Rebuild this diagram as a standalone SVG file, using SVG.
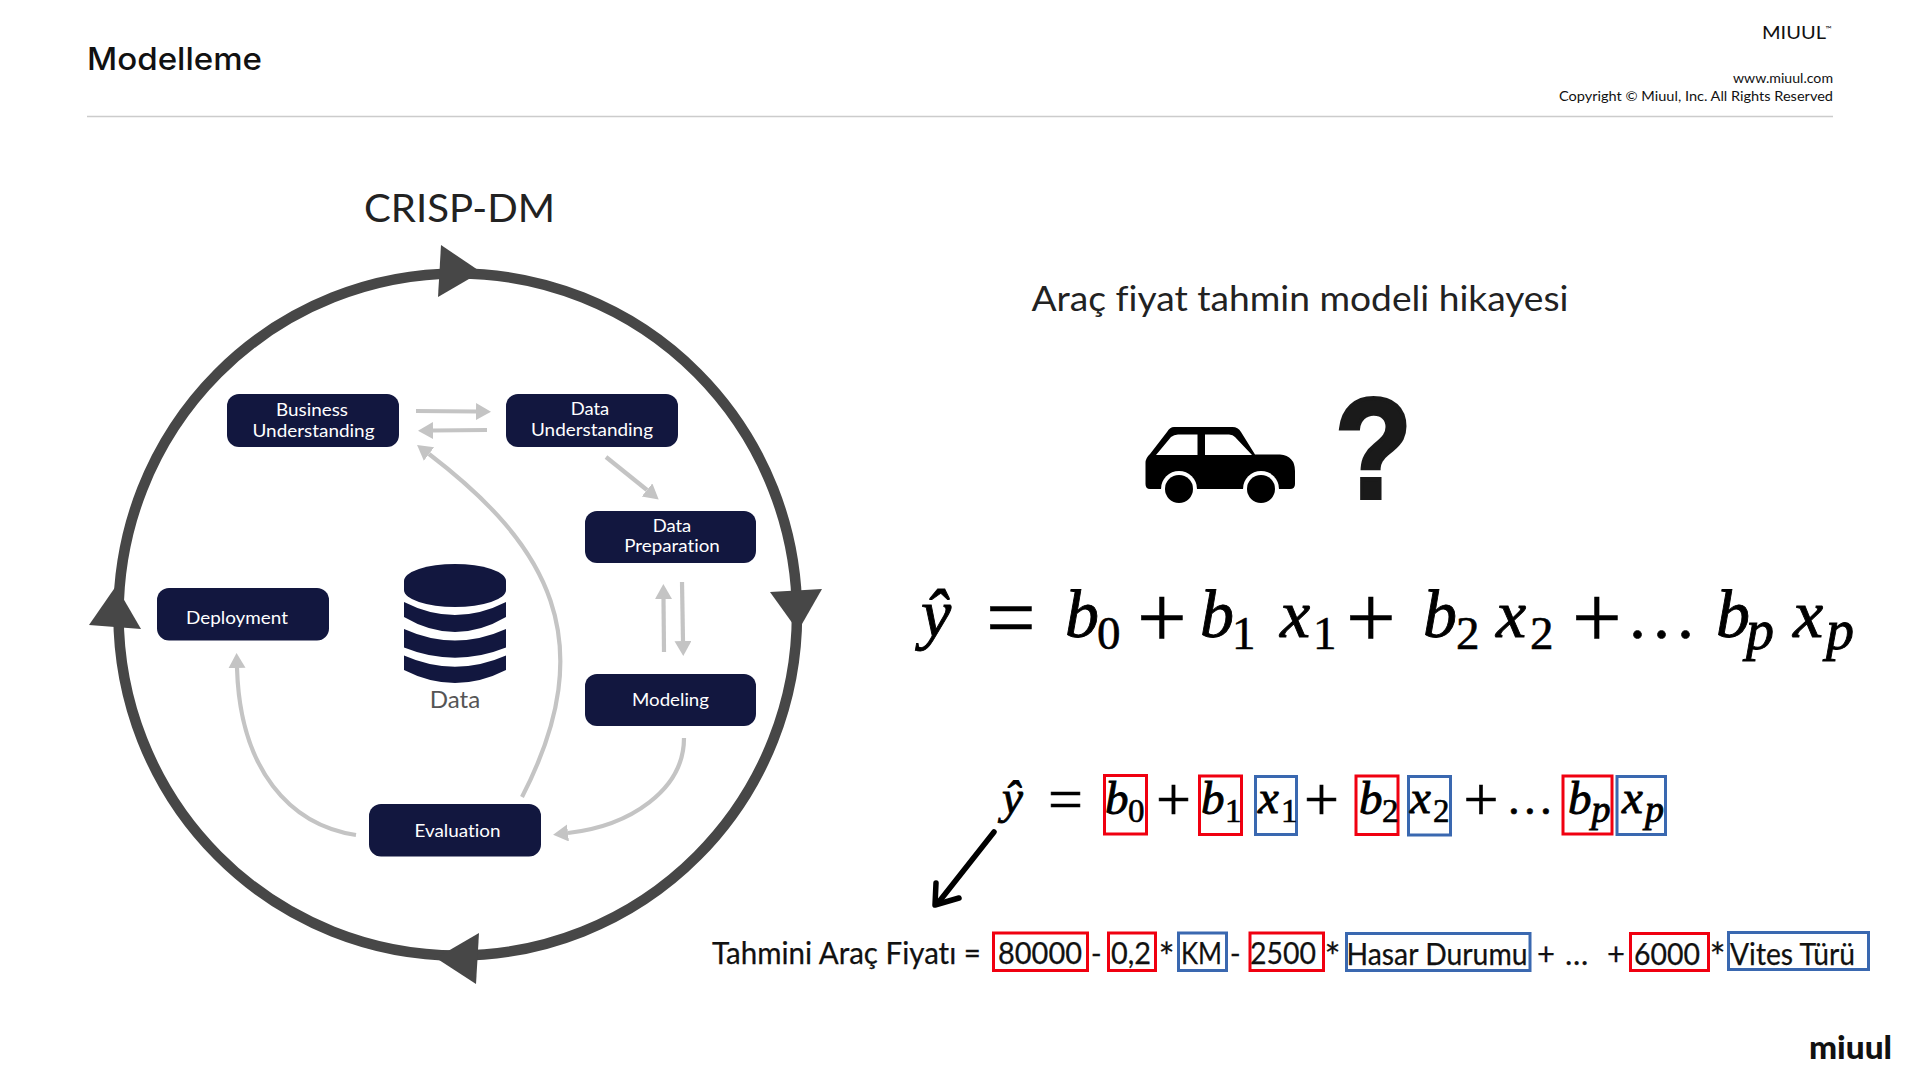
<svg xmlns="http://www.w3.org/2000/svg" width="1920" height="1080" viewBox="0 0 1920 1080" style="fill:#111">
<style>
text{font-family:"Lato","Noto Sans",sans-serif;font-variant-ligatures:none}
.nb{fill:#12173f}
.nt{fill:#fff;font-size:17.5px;text-anchor:middle}
.ring{fill:none;stroke:#474747;stroke-width:10.500}
.rh{fill:#474747}
.g{fill:none;stroke:#c4c4c4;stroke-width:4.200;marker-end:url(#gh)}
.m{font-family:"Liberation Serif",serif;font-style:italic;stroke:#000;stroke-width:.9;fill:#000}
.s{font-family:"Liberation Serif",serif;stroke:#000;stroke-width:.6;fill:#000}
.L{font-size:68px}.Ls{font-size:47px}.LO{font-size:88px}.S{font-size:47px}.Ss{font-size:33px}.SO{font-size:62px}
.Lp{font-size:56px}.Sp{font-size:38px}
.r,.b{fill:none;stroke-width:3}.r{stroke:#f00010}.b{stroke:#3a68b0}
.t{font-size:31px;stroke:#111;stroke-width:.25}
.a{font-size:38px}
</style>
<defs>
<marker id="gh" markerUnits="userSpaceOnUse" markerWidth="16" markerHeight="18" refX="0" refY="8.500" orient="auto"><path d="M0 0L15 8.500L0 17Z" fill="#c4c4c4"/></marker>
</defs>
<g id="header">
<text x="87" y="70" font-size="31" style="font-family:Inter,sans-serif;font-weight:500" textLength="175" lengthAdjust="spacingAndGlyphs">Modelleme</text>
<line x1="87" y1="116.500" x2="1833" y2="116.500" stroke="#ccc" stroke-width="1.500"/>
<text x="1762" y="38.500" font-size="17.500" textLength="64" lengthAdjust="spacingAndGlyphs">MIUUL</text>
<text x="1825.500" y="32" font-size="8">™</text>
<text x="1833" y="83" font-size="13.500" text-anchor="end" textLength="100" lengthAdjust="spacingAndGlyphs">www.miuul.com</text>
<text x="1833" y="101" font-size="13.500" text-anchor="end" textLength="274" lengthAdjust="spacingAndGlyphs">Copyright © Miuul, Inc. All Rights Reserved</text>
</g>
<text id="crisp-title" x="364" y="221.500" font-size="38" fill="#222" textLength="191" lengthAdjust="spacingAndGlyphs">CRISP-DM</text>
<g id="connectors">
<path class="ring" d="M457.750 273.500A339.250 341 0 0 1 797 614.500"/>
<path class="ring" d="M797 614.500A339.250 341 0 0 1 457.750 955.500"/>
<path class="ring" d="M457.750 955.500A339.250 341 0 0 1 118.500 614.500"/>
<path class="ring" d="M118.500 614.500A339.250 341 0 0 1 457.750 273.500"/>
<polygon class="rh" points="441,245 481,272 438,297"/>
<polygon class="rh" points="770,592 822,589 798,631"/>
<polygon class="rh" points="479,933 436,958 476,984"/>
<polygon class="rh" points="116,586 89,625 141,629"/>
<path class="g" d="M416 411L476 411.500"/>
<path class="g" d="M487 430L433 430.500"/>
<path class="g" d="M606 457L647 490"/>
<path class="g" d="M664 652L663.500 599"/>
<path class="g" d="M682 582L683 641"/>
<path class="g" d="M684 738C684 790 630 826 568 833"/>
<path class="g" d="M356 835C290 825 240 770 237 668"/>
<path class="g" d="M522 797C603 640 548 545 429 454"/>
<path d="M994 832L938 903" fill="none" stroke="#000" stroke-width="5.500" stroke-linecap="round"/>
<path d="M936 883L935 905L959 898" fill="none" stroke="#000" stroke-width="5.500" stroke-linecap="round" stroke-linejoin="round"/>
</g>
<g id="business"><rect class="nb" x="227" y="394" width="172" height="53" rx="12"/><text class="nt" x="312" y="415.500" textLength="72" lengthAdjust="spacingAndGlyphs">Business</text><text class="nt" x="313.500" y="436.500" textLength="122" lengthAdjust="spacingAndGlyphs">Understanding</text></g>
<g id="data-understanding"><rect class="nb" x="506" y="394" width="172" height="53" rx="12"/><text class="nt" x="590" y="415" textLength="38.500" lengthAdjust="spacingAndGlyphs">Data</text><text class="nt" x="592" y="435.500" textLength="122" lengthAdjust="spacingAndGlyphs">Understanding</text></g>
<g id="data-preparation"><rect class="nb" x="585" y="511" width="171" height="52" rx="12"/><text class="nt" x="672" y="531.500" textLength="38.500" lengthAdjust="spacingAndGlyphs">Data</text><text class="nt" x="672" y="552" textLength="95.500" lengthAdjust="spacingAndGlyphs">Preparation</text></g>
<g id="deployment"><rect class="nb" x="157" y="588" width="172" height="52.500" rx="12"/><text class="nt" x="237" y="624" textLength="102" lengthAdjust="spacingAndGlyphs">Deployment</text></g>
<g id="modeling"><rect class="nb" x="585" y="674" width="171" height="52" rx="12"/><text class="nt" x="670.500" y="706" textLength="77" lengthAdjust="spacingAndGlyphs">Modeling</text></g>
<g id="evaluation"><rect class="nb" x="369" y="804" width="172" height="52.500" rx="12"/><text class="nt" x="457.500" y="837" textLength="86" lengthAdjust="spacingAndGlyphs">Evaluation</text></g>
<g id="data-store">
<g class="nb">
<path d="M404 581A51 17 0 0 1 506 581V590A51 17 0 0 1 404 590Z"/>
<path d="M404 602Q455 628 506 602V617Q455 647 404 617Z"/>
<path d="M404 629Q455 652 506 629V647.500Q455 668 404 647.500Z"/>
<path d="M404 655.500Q455 678 506 655.500V670Q455 696 404 670Z"/>
</g>
<text x="455" y="708" font-size="23" fill="#555" text-anchor="middle" textLength="50.500" lengthAdjust="spacingAndGlyphs">Data</text>
</g>
<text id="story-title" x="1031.500" y="310.500" font-size="34" fill="#222" textLength="537" lengthAdjust="spacingAndGlyphs">Araç fiyat tahmin modeli hikayesi</text>
<g id="car">
<path d="M1174 427H1232.500Q1238 427 1241 432L1255 454.500H1280Q1295 456 1295 471V484Q1295 489 1290 489H1150Q1145.500 489 1145.500 484V463Q1145.500 458 1150 454L1167 432Q1170 427 1174 427Z" fill="#000"/>
<path d="M1156 455L1171 437Q1174 434.500 1178 434.500H1197.500V455Z M1205 434.500H1229Q1233 434.500 1235 437L1252 455H1205Z" fill="#fff"/>
<circle cx="1179" cy="489" r="18" fill="#fff"/><circle cx="1261" cy="489" r="18" fill="#fff"/>
<circle cx="1179" cy="489" r="14" fill="#000"/><circle cx="1261" cy="489" r="14" fill="#000"/>
</g>
<text id="question" transform="translate(1373.500,498) scale(.9,1.020)" font-size="140" text-anchor="middle" fill="#1a1a1a" stroke="#1a1a1a" stroke-width="4" style="font-family:'Liberation Sans',sans-serif;font-weight:700">?</text>
<g id="formula-large">
<text class="m L" x="921" y="637">ŷ</text>
<text class="s LO" x="986" y="647">=</text>
<text class="m L" x="1065" y="637">b</text><text class="s Ls" x="1097" y="649">0</text>
<text class="s LO" x="1137" y="647">+</text>
<text class="m L" x="1200" y="637">b</text><text class="s Ls" x="1232" y="649">1</text>
<text class="m L" x="1280" y="637">x</text><text class="s Ls" x="1313" y="649">1</text>
<text class="s LO" x="1346" y="647">+</text>
<text class="m L" x="1423" y="637">b</text><text class="s Ls" x="1456" y="649">2</text>
<text class="m L" x="1496" y="637">x</text><text class="s Ls" x="1530" y="649">2</text>
<text class="s LO" x="1572" y="647">+</text>
<text class="s L" x="1629 1653 1677" y="638">...</text>
<text class="m L" x="1716" y="637">b</text><text class="m Lp" x="1746" y="649">p</text>
<text class="m L" x="1793" y="637">x</text><text class="m Lp" x="1826" y="649">p</text>
</g>
<g id="formula-boxed">
<text class="m S" x="1002" y="813">ŷ</text>
<text class="s SO" x="1048" y="820">=</text>
<rect class="r" x="1104.500" y="775.500" width="42" height="58.500"/>
<text class="m S" x="1105" y="814">b</text><text class="s Ss" x="1128" y="822">0</text>
<text class="s SO" x="1156" y="820">+</text>
<rect class="r" x="1199.500" y="776" width="42" height="58.500"/>
<text class="m S" x="1201" y="814">b</text><text class="s Ss" x="1225" y="822">1</text>
<rect class="b" x="1255.500" y="776.500" width="41" height="58"/>
<text class="m S" x="1258" y="813">x</text><text class="s Ss" x="1281" y="822">1</text>
<text class="s SO" x="1304" y="820">+</text>
<rect class="r" x="1356" y="776" width="42" height="58.500"/>
<text class="m S" x="1359" y="814">b</text><text class="s Ss" x="1382" y="822">2</text>
<rect class="b" x="1408.500" y="776.500" width="42" height="58.500"/>
<text class="m S" x="1410" y="813">x</text><text class="s Ss" x="1433" y="822">2</text>
<text class="s SO" x="1463.500" y="820">+</text>
<text class="s S" x="1508 1524 1540" y="814">...</text>
<rect class="r" x="1563" y="776" width="49" height="58"/>
<text class="m S" x="1568" y="814">b</text><text class="m Sp" x="1591.500" y="822">p</text>
<rect class="b" x="1617" y="776.500" width="48.500" height="58"/>
<text class="m S" x="1622" y="813">x</text><text class="m Sp" x="1645" y="822">p</text>
</g>
<g id="formula-example">
<text class="t" x="712" y="964" textLength="269" lengthAdjust="spacingAndGlyphs">Tahmini Araç Fiyatı =</text>
<rect class="r" x="993.500" y="933" width="94" height="37.500"/>
<text class="t" x="998" y="964" textLength="84" lengthAdjust="spacingAndGlyphs">80000</text>
<text class="t" x="1091" y="964" textLength="10.500" lengthAdjust="spacingAndGlyphs">–</text>
<rect class="r" x="1108.500" y="933" width="47" height="37.500"/>
<text class="t" x="1111" y="964" textLength="40" lengthAdjust="spacingAndGlyphs">0,2</text>
<text class="t a" x="1158.500" y="971">*</text>
<rect class="b" x="1178.500" y="933" width="48" height="37.500"/>
<text class="t" x="1181" y="964" textLength="41" lengthAdjust="spacingAndGlyphs">KM</text>
<text class="t" x="1230" y="964" textLength="10.500" lengthAdjust="spacingAndGlyphs">–</text>
<rect class="r" x="1250" y="933" width="73.500" height="37.500"/>
<text class="t" x="1250" y="964" textLength="66" lengthAdjust="spacingAndGlyphs">2500</text>
<text class="t a" x="1324.500" y="971">*</text>
<rect class="b" x="1346.500" y="933.500" width="183.500" height="37"/>
<text class="t" x="1346.500" y="964.500" textLength="181" lengthAdjust="spacingAndGlyphs">Hasar Durumu</text>
<text class="t" x="1537" y="964.500">+</text>
<text class="t" x="1565" y="964.500" textLength="24" lengthAdjust="spacing">…</text>
<text class="t" x="1607" y="964.500">+</text>
<rect class="r" x="1630.500" y="933.500" width="78" height="37"/>
<text class="t" x="1634" y="964.500" textLength="66" lengthAdjust="spacingAndGlyphs">6000</text>
<text class="t a" x="1709.500" y="971">*</text>
<rect class="b" x="1728.500" y="932.500" width="140" height="37"/>
<text class="t" x="1730" y="964.500" textLength="125" lengthAdjust="spacingAndGlyphs">Vites Türü</text>
</g>
<text id="miuul-logo" x="1809" y="1059" font-size="33" font-weight="900" textLength="83" lengthAdjust="spacingAndGlyphs">miuul</text>
</svg>
